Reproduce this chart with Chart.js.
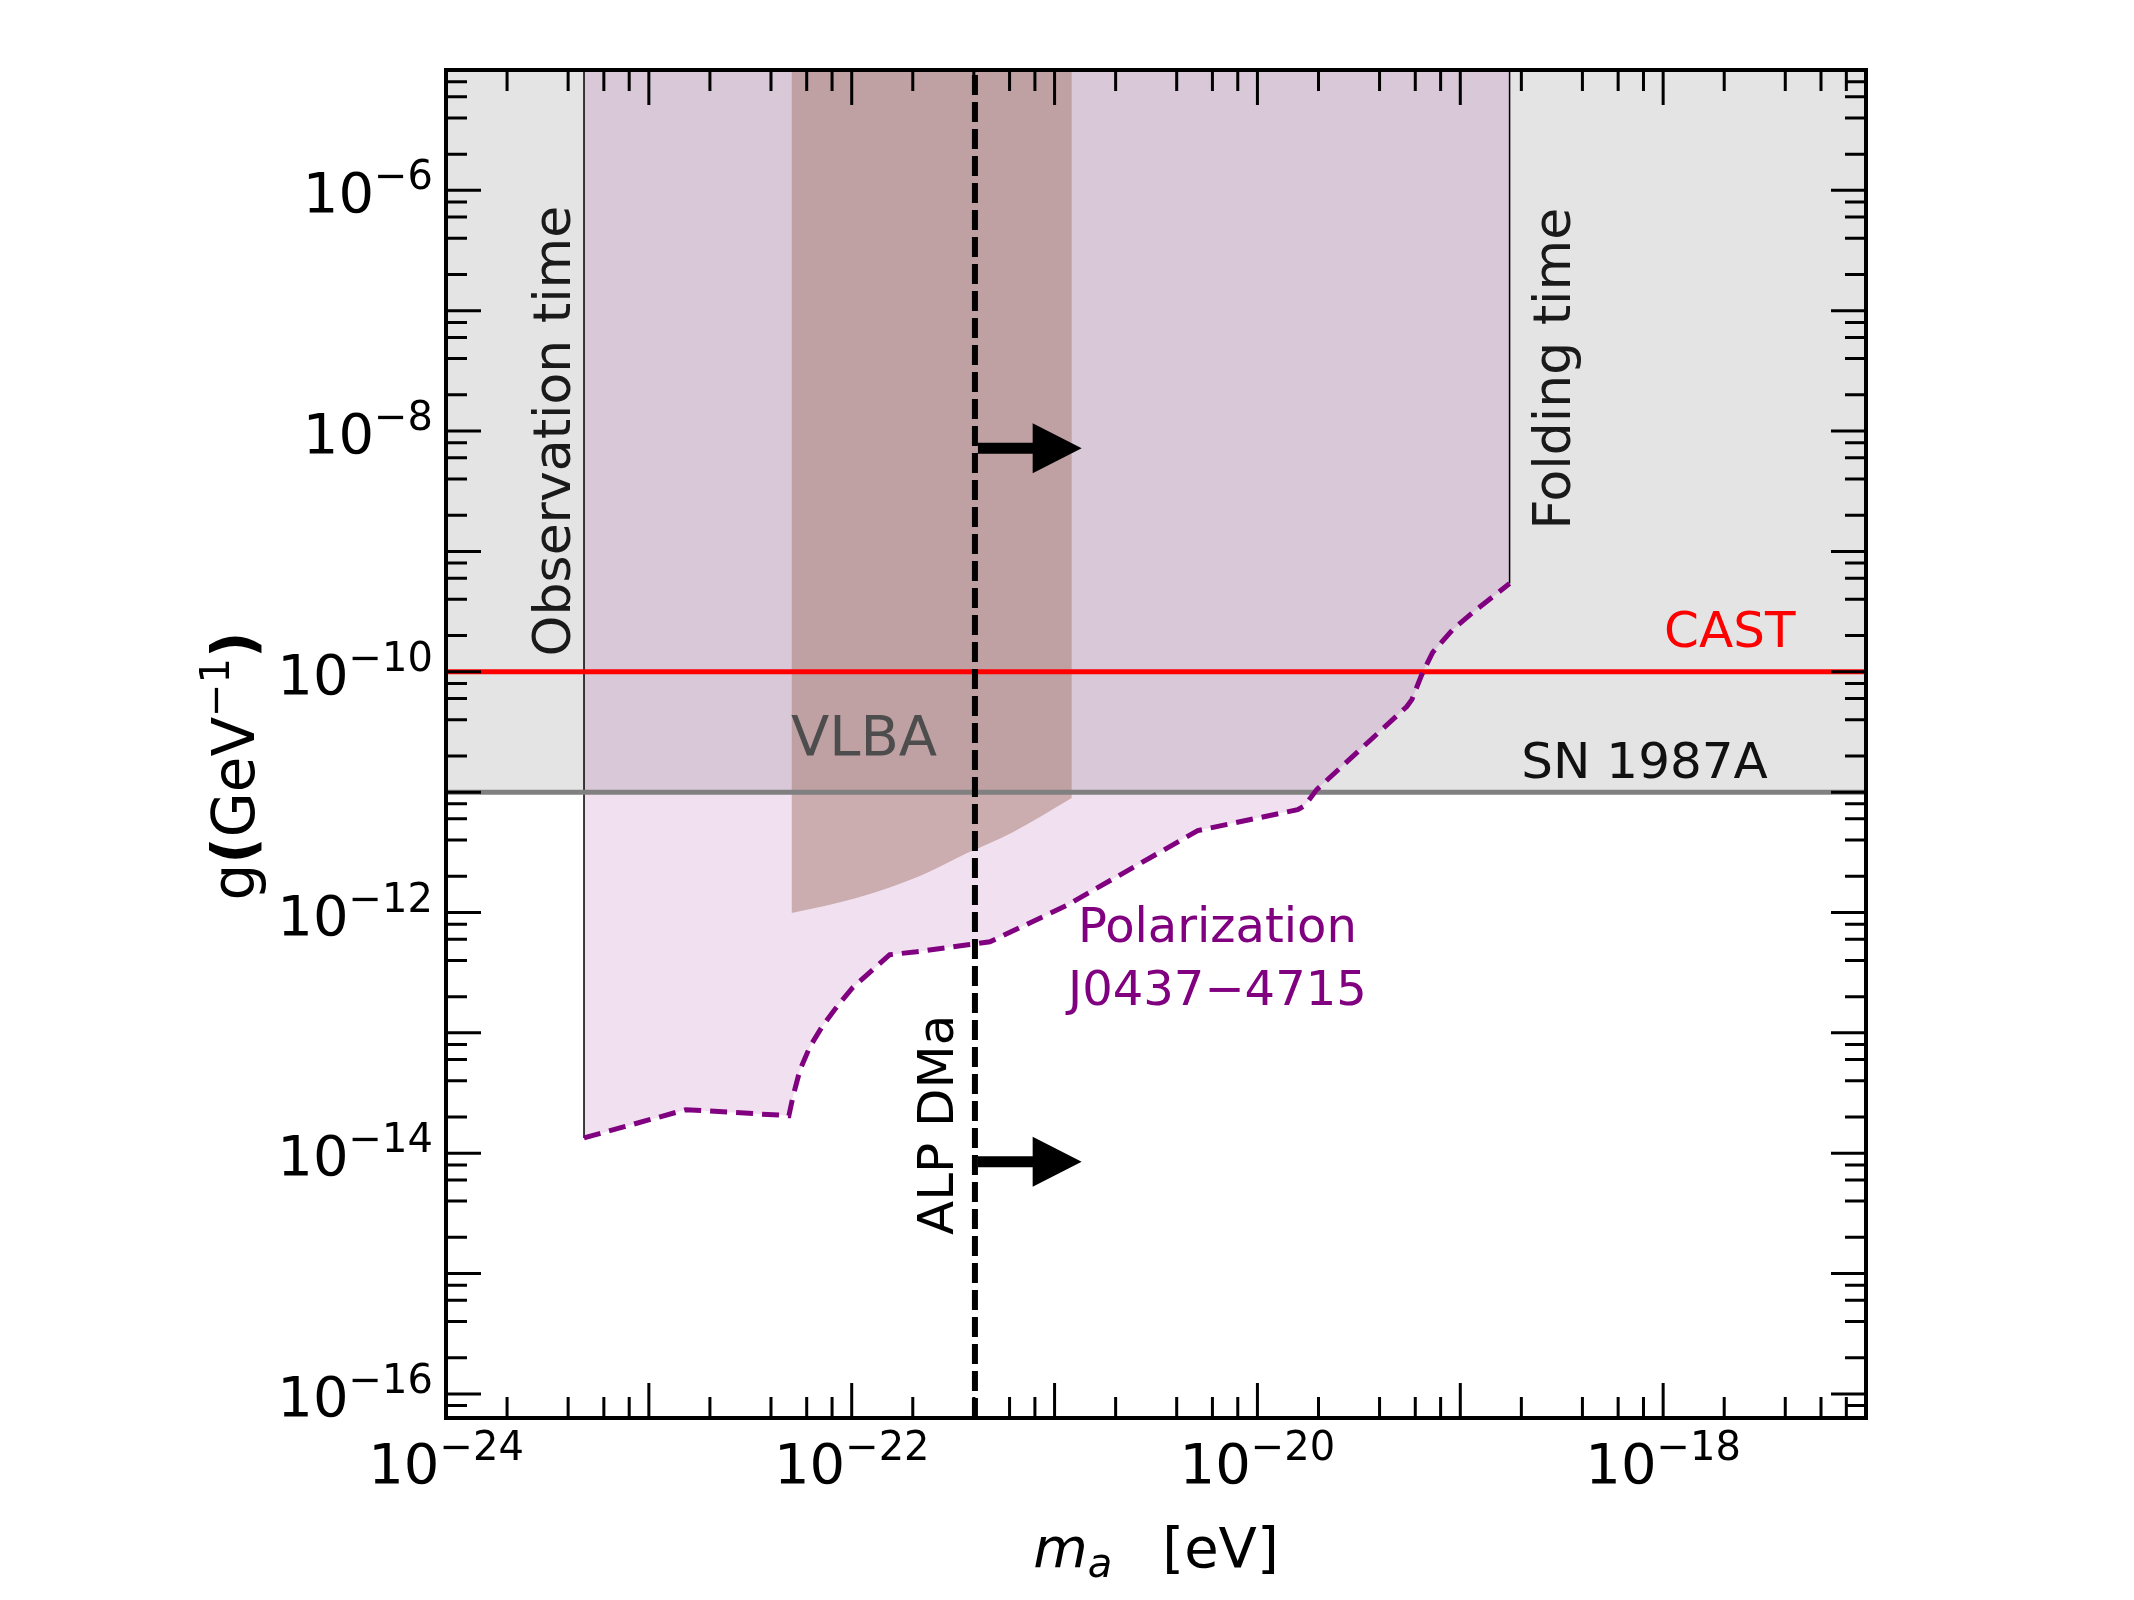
<!DOCTYPE html>
<html>
<head>
<meta charset="utf-8">
<script src="https://cdn.jsdelivr.net/npm/chart.js@4.4.1/dist/chart.umd.min.js"></script>
<style>
  html, body { margin: 0; padding: 0; background: #fff; }
</style>
</head>
<body>
<canvas id="chart" width="2134" height="1600"></canvas>
<script>
// axis ranges and ticks (exponents of ten)
const massRange = [1e-24, 1e-17];
const couplingRange = [6.31e-17, 1e-5];
const xMajorExp = [-24, -23, -22, -21, -20, -19, -18, -17];
const xLabelExp = [-24, -22, -20, -18];
const yMajorExp = [-16, -15, -14, -13, -12, -11, -10, -9, -8, -7, -6, -5];
const yLabelExp = [-16, -14, -12, -10, -8, -6];
const minorSteps = [2, 4, 6, 8];

// polarization bound J0437-4715 (dashed purple)
const polMass = [4.79e-24, 1.52e-23, 4.90e-23, 5.13e-23, 5.56e-23, 6.22e-23, 7.13e-23, 8.45e-23,
  1.01e-22, 1.27e-22, 1.54e-22, 2.09e-22, 3.74e-22, 4.80e-22, 1.14e-21, 5.08e-21,
  1.58e-20, 1.71e-20, 1.96e-20, 5.45e-20, 5.77e-20, 6.46e-20, 7.31e-20, 9.18e-20, 1.15e-19, 1.75e-19];
const polCoupling = [1.34e-14, 2.30e-14, 2.05e-14, 2.94e-14, 4.93e-14, 7.66e-14, 1.12e-13, 1.65e-13,
  2.37e-13, 3.35e-13, 4.46e-13, 4.72e-13, 5.40e-13, 5.71e-13, 1.14e-12, 4.79e-12,
  7.16e-12, 7.73e-12, 1.05e-11, 5.14e-11, 5.87e-11, 9.48e-11, 1.45e-10, 2.24e-10, 3.10e-10, 5.41e-10];

// VLBA lower edge
const vlbaMass = [5.05e-23, 8.17e-23, 1.355e-22, 2.24e-22, 3.73e-22, 6.19e-22, 1.216e-21];
const vlbaCoupling = [9.9e-13, 1.18e-12, 1.50e-12, 2.06e-12, 3.13e-12, 4.63e-12, 8.95e-12];

// vertical and horizontal limits
const obsTimeMass = 4.79e-24;
const foldTimeMass = 1.75e-19;
const alpMass = 4.05e-22;
const castCoupling = 1e-10;
const snCoupling = 1e-11;
const arrowCoupling = [7.2e-9, 8.5e-15];
const arrowTipMass = 1.36e-21;

const FONT = '"DejaVu Sans", sans-serif';
const pts = (xs, ys) => xs.map((x, i) => ({ x, y: ys[i] }));

// text labels: anchor in data coordinates
const notes = [
    { text: 'Observation time', x: 4.08e-24, y: 1e-8, rot: true, size: 52, color: '#1a1a1a' },
    { text: 'Folding time', x: 3.47e-19, y: 3.3e-8, rot: true, size: 52, color: '#1a1a1a' },
    { text: 'CAST', x: 2.13e-18, y: 1.62e-10, size: 50, color: '#ff0000' },
    { text: 'SN 1987A', x: 8.1e-19, y: 1.32e-11, size: 50, color: '#111' },
    { text: 'VLBA', x: 1.15e-22, y: 2.05e-11, size: 56, color: '#4d4d4d' },
    { text: 'Polarization', x: 6.35e-21, y: 5.7e-13, size: 48, color: '#800080' },
    { text: 'J0437\u22124715', x: 6.35e-21, y: 1.71e-13, size: 48, color: '#800080' },
    { text: 'ALP DMa', x: 3.16e-22, y: 1.72e-14, rot: true, size: 50, color: '#000' }
];

// draw a row of text pieces (for superscripts / subscripts)
function drawRuns(ctx, runs, x, y, align) {
    let total = 0;
    runs.forEach(r => {
        ctx.font = r.font;
        r.w = ctx.measureText(r.text).width;
        total += r.w + (r.gap || 0);
    });
    let cx = align === 'center' ? x - total / 2 : align === 'right' ? x - total : x;
    ctx.textAlign = 'left';
    ctx.textBaseline = 'alphabetic';
    runs.forEach(r => {
        ctx.font = r.font;
        ctx.fillText(r.text, cx, y + (r.dy || 0));
        cx += r.w + (r.gap || 0);
    });
}

function powRuns(exp) {
    return [
        { text: '10', font: '56px ' + FONT },
        { text: '\u2212' + Math.abs(exp), font: '40px ' + FONT, dy: -23 }
    ];
}

const framePlugin = {
    id: 'framePlugin',
    afterDatasetsDraw(chart) {
        const ctx = chart.ctx;
        const xs = chart.scales.x, ys = chart.scales.y;
        ctx.save();
        // arrows
        ctx.fillStyle = '#000';
        arrowCoupling.forEach(c => {
            const y = ys.getPixelForValue(c);
            const x0 = xs.getPixelForValue(alpMass) + 3;
            const x1 = xs.getPixelForValue(arrowTipMass);
            const hl = 49, hh = 25, sh = 5.5;
            ctx.beginPath();
            ctx.moveTo(x0, y - sh);
            ctx.lineTo(x1 - hl, y - sh);
            ctx.lineTo(x1 - hl, y - hh);
            ctx.lineTo(x1, y);
            ctx.lineTo(x1 - hl, y + hh);
            ctx.lineTo(x1 - hl, y + sh);
            ctx.lineTo(x0, y + sh);
            ctx.closePath();
            ctx.fill();
        });
        // labels
        notes.forEach(n => {
            const px = xs.getPixelForValue(n.x);
            const py = ys.getPixelForValue(n.y);
            ctx.save();
            ctx.translate(px, py);
            if (n.rot) ctx.rotate(-Math.PI / 2);
            ctx.font = n.size + 'px ' + FONT;
            ctx.fillStyle = n.color;
            ctx.textAlign = 'center';
            ctx.textBaseline = 'alphabetic';
            ctx.fillText(n.text, 0, 0);
            ctx.restore();
        });
        ctx.restore();
    },
    afterDraw(chart) {
        const ctx = chart.ctx;
        const a = chart.chartArea;
        const xs = chart.scales.x, ys = chart.scales.y;
        ctx.save();
        ctx.strokeStyle = '#000';
        ctx.lineWidth = 3;
        const MAJ = 35, MIN = 21;
        const xTick = (v, len) => {
            const p = xs.getPixelForValue(v);
            if (p <= a.left + 1 || p >= a.right - 1) return;
            ctx.beginPath();
            ctx.moveTo(p, a.bottom); ctx.lineTo(p, a.bottom - len);
            ctx.moveTo(p, a.top); ctx.lineTo(p, a.top + len);
            ctx.stroke();
        };
        const yTick = (v, len) => {
            const p = ys.getPixelForValue(v);
            if (p <= a.top + 1 || p >= a.bottom - 1) return;
            ctx.beginPath();
            ctx.moveTo(a.left, p); ctx.lineTo(a.left + len, p);
            ctx.moveTo(a.right, p); ctx.lineTo(a.right - len, p);
            ctx.stroke();
        };
        xMajorExp.forEach(e => {
            xTick(10 ** e, MAJ);
            minorSteps.forEach(m => xTick(m * 10 ** e, MIN));
        });
        [-17].concat(yMajorExp).forEach(e => {
            if (e > -17) yTick(10 ** e, MAJ);
            minorSteps.forEach(m => yTick(m * 10 ** e, MIN));
        });
        // frame
        ctx.lineWidth = 4;
        ctx.strokeRect(a.left, a.top, a.right - a.left, a.bottom - a.top);

        // tick labels
        ctx.fillStyle = '#000';
        xLabelExp.forEach(e => {
            drawRuns(ctx, powRuns(e), xs.getPixelForValue(10 ** e), a.bottom + 65, 'center');
        });
        yLabelExp.forEach(e => {
            drawRuns(ctx, powRuns(e), a.left - 13, ys.getPixelForValue(10 ** e) + 22, 'right');
        });

        // x title
        drawRuns(ctx, [
            { text: 'm', font: 'italic 56px ' + FONT },
            { text: 'a', font: 'italic 40px ' + FONT, dy: 10, gap: 50 },
            { text: '[eV]', font: '56px ' + FONT }
        ], (a.left + a.right) / 2, 1567, 'center');

        // y title
        ctx.save();
        ctx.translate(254, 766);
        ctx.rotate(-Math.PI / 2);
        drawRuns(ctx, [
            { text: 'g', font: '58px ' + FONT },
            { text: '(', font: 'bold 58px ' + FONT },
            { text: 'GeV', font: '58px ' + FONT },
            { text: '\u22121', font: '40px ' + FONT, dy: -25 },
            { text: ')', font: 'bold 58px ' + FONT }
        ], 0, 0, 'center');
        ctx.restore();
        ctx.restore();
    }
};

new Chart(document.getElementById('chart'), {
    type: 'line',
    data: {
        datasets: [
            { label: 'SN region', data: pts(massRange, [snCoupling, snCoupling]), fill: 'end',
              backgroundColor: '#e4e4e4', borderWidth: 0, order: 10 },
            { label: 'Polarization region', data: pts(polMass, polCoupling), fill: 'end',
              backgroundColor: 'rgba(128,0,128,0.12)', borderWidth: 0, order: 9 },
            { label: 'VLBA', data: pts(vlbaMass, vlbaCoupling), fill: 'end',
              backgroundColor: 'rgba(165,120,110,0.5)', borderWidth: 0,
              cubicInterpolationMode: 'monotone', order: 8 },
            { label: 'Observation time', data: [{ x: obsTimeMass, y: polCoupling[0] }, { x: obsTimeMass, y: couplingRange[1] }],
              borderColor: '#000', borderWidth: 1.5, fill: false, order: 7 },
            { label: 'Folding time', data: [{ x: foldTimeMass, y: polCoupling[polCoupling.length - 1] }, { x: foldTimeMass, y: couplingRange[1] }],
              borderColor: '#000', borderWidth: 1.5, fill: false, order: 6 },
            { label: 'SN 1987A', data: pts(massRange, [snCoupling, snCoupling]),
              borderColor: '#808080', borderWidth: 5, fill: false, order: 5 },
            { label: 'CAST', data: pts(massRange, [castCoupling, castCoupling]),
              borderColor: '#ff0000', borderWidth: 5, fill: false, order: 4 },
            { label: 'Polarization J0437-4715', data: pts(polMass, polCoupling),
              borderColor: '#800080', borderWidth: 5, borderDash: [17, 9], fill: false, order: 3 },
            { label: 'ALP DMa', data: [{ x: alpMass, y: couplingRange[0] }, { x: alpMass, y: couplingRange[1] }],
              borderColor: '#000', borderWidth: 6, borderDash: [20, 7], fill: false, order: 2 }
        ]
    },
    options: {
        responsive: false,
        animation: false,
        devicePixelRatio: 1,
        events: [],
        layout: { padding: { left: 446, right: 268, top: 70, bottom: 182 } },
        elements: { point: { radius: 0 }, line: { tension: 0 } },
        scales: {
            x: { type: 'logarithmic', min: massRange[0], max: massRange[1], display: false },
            y: { type: 'logarithmic', min: couplingRange[0], max: couplingRange[1], display: false }
        },
        plugins: { legend: { display: false }, tooltip: { enabled: false } }
    },
    plugins: [framePlugin]
});
</script>
</body>
</html>
